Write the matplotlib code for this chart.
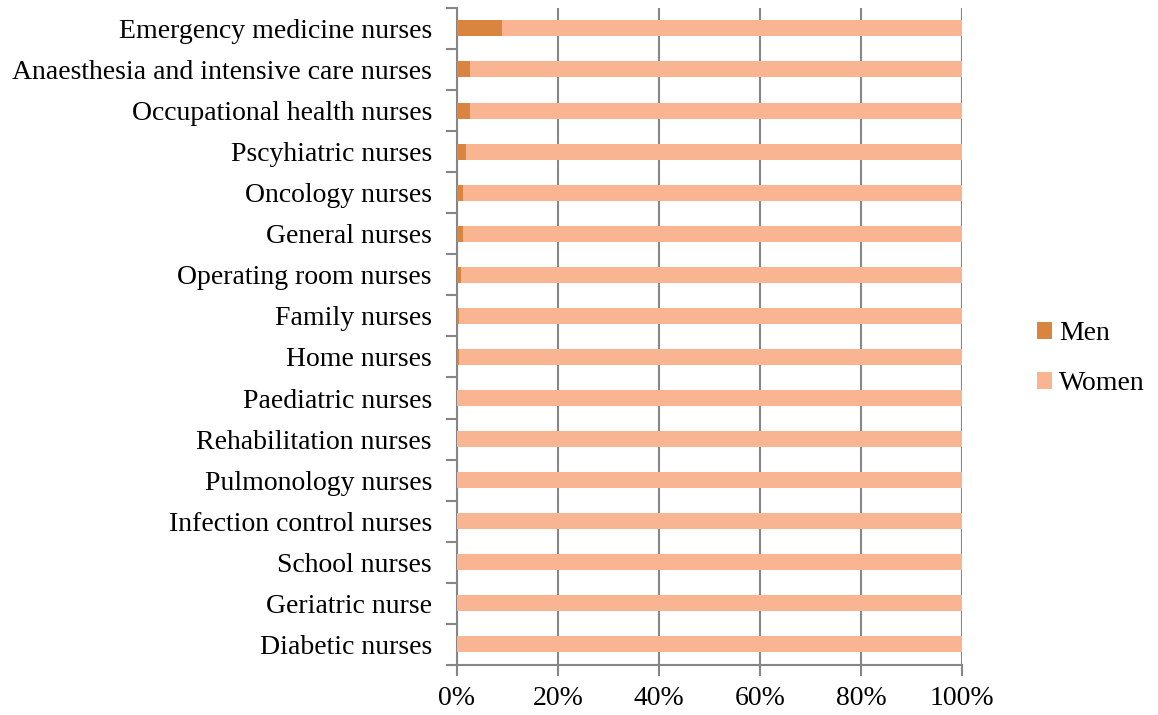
import matplotlib
matplotlib.use("Agg")
import matplotlib.pyplot as plt
from matplotlib.ticker import FixedLocator, PercentFormatter
import numpy as np

# --- Data (top to bottom as shown) ---
categories = [
    'Emergency medicine nurses',
    'Anaesthesia and intensive care nurses',
    'Occupational health nurses',
    'Pscyhiatric nurses',
    'Oncology nurses',
    'General nurses',
    'Operating room nurses',
    'Family nurses',
    'Home nurses',
    'Paediatric nurses',
    'Rehabilitation nurses',
    'Pulmonology nurses',
    'Infection control nurses',
    'School nurses',
    'Geriatric nurse',
    'Diabetic nurses',
]
men_pct = [8.9, 2.6, 2.5, 1.8, 1.2, 1.2, 0.85, 0.5, 0.35, 0, 0, 0, 0, 0, 0, 0]
women_pct = [100 - m for m in men_pct]

MEN_COLOR = '#D9843F'
WOMEN_COLOR = '#F9B591'
AXIS_GRAY = '#868686'
FS = 20

plt.rcParams['font.family'] = ['Liberation Serif', 'DejaVu Serif']

fig = plt.figure(figsize=(11.58, 7.15), dpi=100)
ax = fig.add_axes([0.3946, 0.070, 0.4361, 0.919])

n = len(categories)
y = np.arange(n)[::-1]
bar_h = 0.39
ax.barh(y, men_pct, height=bar_h, color=MEN_COLOR, label='Men', zorder=3)
ax.barh(y, women_pct, left=men_pct, height=bar_h, color=WOMEN_COLOR, label='Women', zorder=3)

ax.set_xlim(0, 100)
ax.set_ylim(-0.5, n - 0.5)
ax.xaxis.set_major_locator(FixedLocator([0, 20, 40, 60, 80, 100]))
ax.xaxis.set_major_formatter(PercentFormatter(decimals=0))
ax.grid(axis='x', color=AXIS_GRAY, linewidth=1.5, zorder=0)
ax.set_axisbelow(True)

ax.set_yticks(y)
ax.set_yticklabels(categories)
ax.yaxis.set_minor_locator(FixedLocator(np.arange(-0.5, n, 1.0)))
ax.tick_params(axis='y', which='major', length=0, pad=18, labelsize=FS)
ax.tick_params(axis='y', which='minor', length=8, width=1.5, color=AXIS_GRAY)
ax.tick_params(axis='x', which='major', length=8, width=1.5, color=AXIS_GRAY,
               labelsize=FS, pad=7)

for side in ['top', 'right']:
    ax.spines[side].set_visible(False)
for side in ['left', 'bottom']:
    ax.spines[side].set_color(AXIS_GRAY)
    ax.spines[side].set_linewidth(1.5)

leg = fig.legend(loc='center left', bbox_to_anchor=(0.874, 0.498), frameon=False,
                 fontsize=FS, handlelength=0.55, handleheight=0.55,
                 handletextpad=0.25, labelspacing=0.9)

plt.savefig('out.png', dpi=100)
plt.close()
